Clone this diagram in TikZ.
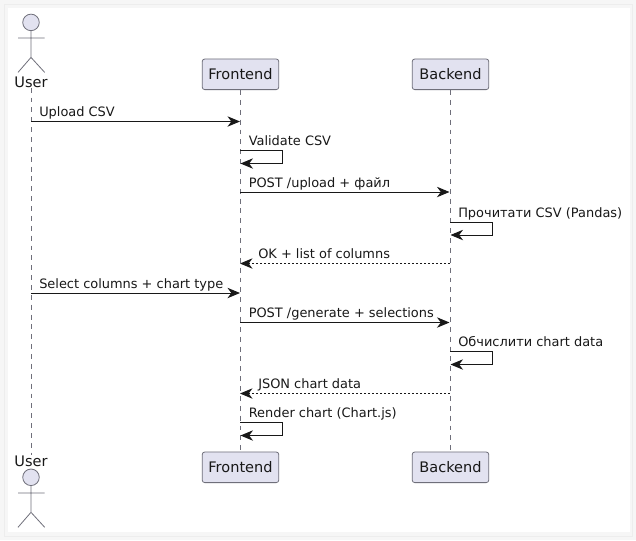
\documentclass[tikz,border=0pt]{standalone}
\usepackage{fontspec}
\setmainfont{DejaVu Sans}
\usetikzlibrary{arrows.meta}
\definecolor{pfill}{HTML}{E2E2F0}
\definecolor{pline}{HTML}{6F6F7A}
\definecolor{ink}{HTML}{181818}
\tikzset{
  x=0.75pt,y=-0.75pt,
  box/.style={draw=pline,fill=pfill,rounded corners=2pt,line width=0.6pt,minimum width=57.5pt,minimum height=23pt,inner sep=0pt,text=ink,font=\fontsize{10.9pt}{12pt}\selectfont},
  actortext/.style={inner sep=0pt,text=ink,font=\fontsize{10.9pt}{12pt}\selectfont},
  limb/.style={draw=pline,line width=0.6pt},
  head/.style={circle,draw=pline,fill=pfill,line width=0.6pt,minimum size=12.4pt,inner sep=0pt},
  life/.style={draw=pline,line width=0.55pt,dash pattern=on 3.7pt off 3.7pt},
  msg/.style={draw=ink,line width=0.75pt,-{Stealth[length=9.4pt,width=7.8pt,inset=2.9pt]}},
  ret/.style={msg,dash pattern=on 1.5pt off 1.5pt},
  lbl/.style={inner sep=0pt,anchor=base west,text=ink,font=\fontsize{9.7pt}{12pt}\selectfont},
}
\newcommand{\actorfig}[2]{%
  \node[head] (#1h) at (31,#2) {};
  \coordinate (#1n) at (31,#2+8);
  \coordinate (#1a) at (18,#2+15.6);
  \coordinate (#1b) at (44.7,#2+15.6);
  \coordinate (#1c) at (31,#2+35);
  \coordinate (#1l) at (18,#2+50);
  \coordinate (#1r) at (44.7,#2+50);
  \draw[limb] (#1h.south) -- (#1c) (#1a) -- (#1b) (#1l) -- (#1c) -- (#1r);
}
\begin{document}
\begin{tikzpicture}
\useasboundingbox (0,0) rectangle (636,540);
\fill[white!96.5!black] (0,0) rectangle (636,540);
\draw[white!93!black,line width=0.5pt] (4,4) rectangle (632,536);
\fill[white] (8,8) rectangle (630,532);

\actorfig{ua}{22.4}
\actorfig{ub}{477.3}
\node[actortext] (usertop) at (31,82) {User};
\node[actortext] (userbot) at (31,461) {User};
\node[box] (ftop) at (240.5,74.3) {Frontend};
\node[box] (fbot) at (240.5,467.3) {Frontend};
\node[box] (btop) at (450.5,74.3) {Backend};
\node[box] (bbot) at (450.5,467.3) {Backend};

\draw[life] (usertop.south) -- (userbot.north);
\draw[life] (ftop.south) -- (fbot.north);
\draw[life] (btop.south) -- (bbot.north);

% message end points on the lifelines
\foreach \n/\y in {1/121.5,3/192,5/263.5,6/293,7/322.5,9/393.5}{
  \coordinate (u\n) at (31,\y);
  \coordinate (f\n) at (240,\y);
  \coordinate (b\n) at (449.5,\y);
}
\foreach \n/\y in {2/150.5,4/222,8/351.5,10/422.5}{
  \coordinate (s\n a) at (\ifnum\n=2 240\else\ifnum\n=10 240\else 450\fi\fi,\y);
  \coordinate (s\n b) at (\ifnum\n=2 282.5\else\ifnum\n=10 282.5\else 492.5\fi\fi,\y);
  \coordinate (s\n c) at (\ifnum\n=2 282.5\else\ifnum\n=10 282.5\else 492.5\fi\fi,\y+13);
  \coordinate (s\n d) at (\ifnum\n=2 240.5\else\ifnum\n=10 240.5\else 450.5\fi\fi,\y+13);
}

\draw[msg] (u1) -- (f1);
\draw[msg] (s2a) -- (s2b) -- (s2c) -- (s2d);
\draw[msg] (f3) -- (b3);
\draw[msg] (s4a) -- (s4b) -- (s4c) -- (s4d);
\draw[ret] (b5) -- (f5);
\draw[msg] (u6) -- (f6);
\draw[msg] (f7) -- (b7);
\draw[msg] (s8a) -- (s8b) -- (s8c) -- (s8d);
\draw[ret] (b9) -- (f9);
\draw[msg] (s10a) -- (s10b) -- (s10c) -- (s10d);

\node[lbl] (m1) at (39,116) {Upload CSV};
\node[lbl] (m2) at (248.5,145.5) {Validate CSV};
\node[lbl] (m3) at (248.5,187) {POST /upload + файл};
\node[lbl] (m4) at (458,217) {Прочитати CSV (Pandas)};
\node[lbl] (m5) at (258,258.5) {OK + list of columns};
\node[lbl] (m6) at (39,288) {Select columns + chart type};
\node[lbl] (m7) at (248.5,317.5) {POST /generate + selections};
\node[lbl] (m8) at (458,346.5) {Обчислити chart data};
\node[lbl] (m9) at (258,388.5) {JSON chart data};
\node[lbl] (m10) at (248.5,417.5) {Render chart (Chart.js)};
\end{tikzpicture}
\end{document}
